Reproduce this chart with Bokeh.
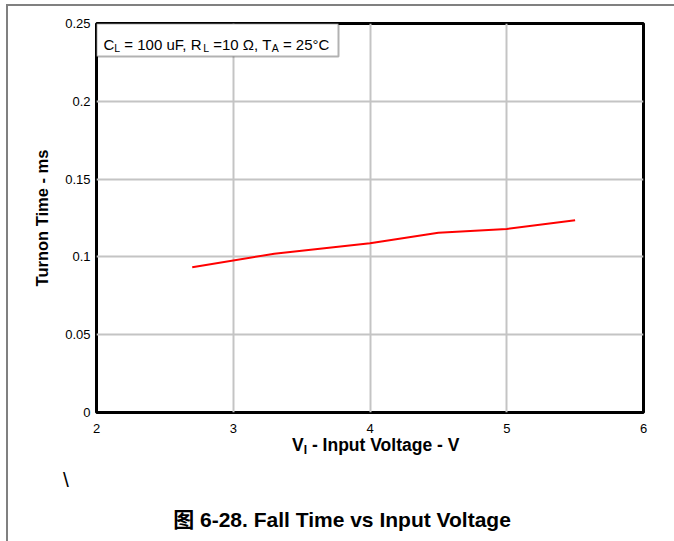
from bokeh.plotting import figure
from bokeh.layouts import column
from bokeh.models import Label, BoxAnnotation, FixedTicker, Range1d, Div
from bokeh.embed import file_html
from bokeh.resources import INLINE

# ---- data ----
voltage = [2.7, 3.3, 4.0, 4.5, 5.0, 5.5]
turnon_ms = [0.0934, 0.1020, 0.1088, 0.1155, 0.1180, 0.1236]
x_ticks = [2, 3, 4, 5, 6]
y_ticks = [0, 0.05, 0.1, 0.15, 0.2, 0.25]
y_tick_labels = ["0", "0.05", "0.1", "0.15", "0.2", "0.25"]
note_pieces = [("C", False), ("L", True), (" = 100 uF, R", False), ("L", True),
               (" =10 \u03a9, T", False), ("A", True), (" = 25\u00b0C", False)]
xlabel_main, xlabel_sub, xlabel_rest = "V", "I", " - Input Voltage - V"
y_label = "Turnon Time - ms"
title_text = "\u56fe 6-28. Fall Time vs Input Voltage"

FONT = "Liberation Sans"
X0, X1 = 2, 6
Y0, Y1 = 0, 0.25

# page layout (pixels, page origin top-left; body margin is 0)
CX, CY = 8, 6                        # canvas origin of the chart on the page
W1, H1 = 664, 433                    # chart canvas
H2 = 541 - 4 - 2 - H1                # caption strip below it
T2 = CY + H1                         # page y of the caption strip
FL, FR, FT, FB = 96, 643, 23, 412    # frame edges on the page
DIV_DX, DIV_DY = -5, -4              # observed offset of the HTML strip content

p = figure(width=W1, height=H1, output_backend="svg", toolbar_location=None,
           x_range=Range1d(X0, X1), y_range=Range1d(Y0, Y1),
           min_border_left=FL - CX, min_border_right=W1 - (FR - CX),
           min_border_top=FT - CY, min_border_bottom=H1 - (FB - CY))
p.background_fill_color = "white"
p.border_fill_color = "white"
p.outline_line_color = "black"
p.outline_line_width = 3

for ax in (p.xaxis, p.yaxis):
    ax.axis_line_color = None
    ax.major_tick_line_color = None
    ax.minor_tick_line_color = None
    ax.major_tick_out = 0
    ax.major_tick_in = 0
    ax.minor_tick_out = 0
    ax.minor_tick_in = 0
    ax.major_label_text_font = FONT
    ax.major_label_text_font_size = "13px"
    ax.major_label_text_color = "black"
p.xaxis.ticker = FixedTicker(ticks=x_ticks)
p.yaxis.ticker = FixedTicker(ticks=y_ticks)
p.yaxis.major_label_overrides = {t: l for t, l in zip(y_ticks, y_tick_labels)}
p.xaxis.major_label_standoff = 11
p.yaxis.major_label_standoff = 6
p.yaxis.axis_label = y_label
p.yaxis.axis_label_text_font = FONT
p.yaxis.axis_label_text_font_style = "bold"
p.yaxis.axis_label_text_font_size = "16.5px"
p.yaxis.axis_label_text_color = "black"
p.yaxis.axis_label_standoff = 11

p.xgrid.ticker = FixedTicker(ticks=x_ticks)
p.ygrid.ticker = FixedTicker(ticks=y_ticks)
for g in (p.xgrid, p.ygrid):
    g.grid_line_color = "#c4c4c4"
    g.grid_line_width = 2

p.line(voltage, turnon_ms, line_color="#ff0000", line_width=2)


def dx(xp):
    return X0 + (xp - FL) / (FR - FL) * (X1 - X0)


def dy(yp):
    return Y0 + (FB - yp) / (FB - FT) * (Y1 - Y0)


REG = {' ': 278, '=': 584, '0': 556, '1': 556, '2': 556, '5': 556, 'u': 556, 'F': 611,
       ',': 278, 'C': 722, 'R': 722, 'L': 556, 'T': 611, 'A': 667, '\u03a9': 768, '\u00b0': 400}


def rich(pieces, xp, base, size, sub_size, drop):
    for txt, sub in pieces:
        s = sub_size if sub else size
        p.add_layout(Label(x=dx(xp), y=dy(base + (drop if sub else 0)),
                           text=txt.replace(" ", "\u00a0"),
                           text_font=FONT, text_font_size=f"{s}px",
                           text_color="black", text_align="left",
                           text_baseline="alphabetic"))
        xp += sum(REG.get(c, 556) for c in txt) / 1000 * s


# legend-like note box inside the frame
p.add_layout(BoxAnnotation(left=X0, right=dx(338), top=Y1, bottom=dy(56),
                           fill_color="white", fill_alpha=1.0,
                           line_color="black", line_width=2))
rich(note_pieces, 103, 44, 15, 10.5, 3)


# caption strip (HTML text) below the chart
def span(xp, base, size, inner, bold=True, center=False, font=FONT):
    left = xp - CX + DIV_DX
    top = base - 0.8465 * size - T2 + DIV_DY
    tr = "transform:translateX(-50%);" if center else ""
    return (f'<span style="position:absolute;left:{left:.1f}px;top:{top:.1f}px;{tr}'
            f'white-space:nowrap;line-height:1;font-family:{font};font-size:{size}px;'
            f'font-weight:{"bold" if bold else "normal"};color:black;">{inner}</span>')


xl = (f'{xlabel_main}<span style="font-size:12px;position:relative;top:3px;'
      f'line-height:0;">{xlabel_sub}</span>{xlabel_rest}')
html = ('<div style="position:relative;width:%dpx;height:%dpx;overflow:visible;">' % (W1, H2)
        + span(292, 451, 17.5, xl)
        + span(63, 486, 21, "\\", bold=False)
        + span(342, 526, 21, title_text, center=True,
               font="'Liberation Sans','Noto Sans CJK SC',sans-serif")
        + '</div>')
cap = Div(text=html, width=W1, height=H2, styles={"overflow": "visible"})

layout = column(p, cap, spacing=0,
                styles={"margin-left": "6px", "margin-top": "4px",
                        "border-left": "2px solid #808080",
                        "border-right": "2px solid #808080",
                        "border-top": "2px solid #808080"})

open("out.html", "w").write(file_html(layout, INLINE))
